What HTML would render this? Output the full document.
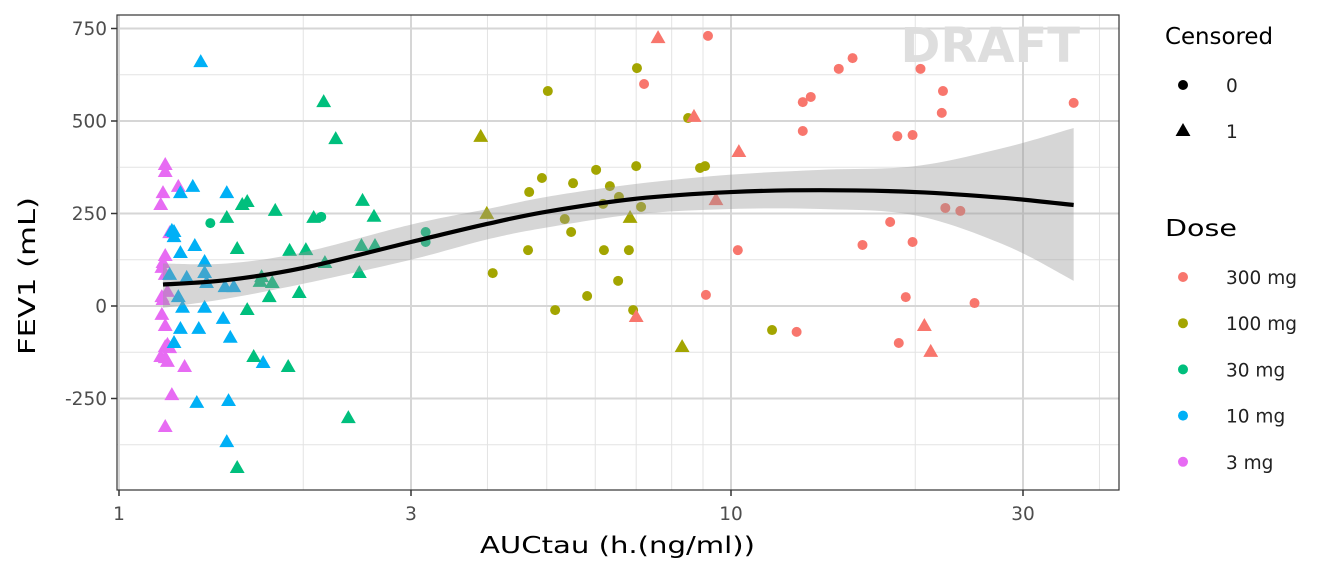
<!DOCTYPE html>
<html><head><meta charset="utf-8"><style>
body{margin:0;background:#fff;}
svg{display:block;font-family:"DejaVu Sans","Liberation Sans",sans-serif;}
</style></head><body>
<svg id="chart" width="1344" height="576" xmlns="http://www.w3.org/2000/svg"></svg>
<script>
// ---- data ----
const xTicks = [1, 3, 10, 30];
const xMinor = [2, 4, 5, 6, 7, 8, 9, 20, 40];
const yTicks = [750, 500, 250, 0, -250];
const yMinor = [625, 375, 125, -125, -375];
const doseLevels = ["300 mg", "100 mg", "30 mg", "10 mg", "3 mg"];
const doseColors = ["#F8766D", "#A3A500", "#00BF7D", "#00B0F6", "#E76BF3"];

const auc3 = [1.19,1.19,1.18,1.17,1.18,1.175,1.25,1.21,1.19,1.19,1.20,1.175,1.18,1.175,1.19,1.20,1.21,1.19,1.19,1.17,1.20,1.28,1.22,1.19];
const fev3 = [381,362,305,273,116,103,322,197,135,84,38,24,16,-24,-54,-105,-114,-111,-141,-138,-151,-165,-241,-327];
const cen3 = [1,1,1,1,1,1,1,1,1,1,1,1,1,1,1,1,1,1,1,1,1,1,1,1];

const auc10 = [1.32,1.26,1.50,1.22,1.23,1.26,1.33,1.38,1.38,1.21,1.29,1.39,1.49,1.54,1.25,1.27,1.38,1.48,1.26,1.35,1.52,1.23,1.72,1.34,1.51,1.50,1.36,1.23];
const fev10 = [322,305,305,203,186,143,162,119,89,84,76,62,51,51,24,-5,-5,-35,-62,-62,-86,-100,-154,-262,-257,-368,659,200];
const cen10 = [1,1,1,1,1,1,1,1,1,1,1,1,1,1,1,1,1,1,1,1,1,1,1,1,1,1,1,1];

const auc30 = [1.41,1.59,1.62,1.80,1.50,2.08,2.14,2.50,2.61,1.56,1.90,2.02,2.49,2.62,2.17,1.71,1.70,1.78,2.47,1.76,1.97,1.62,1.66,1.89,2.37,1.56,2.16,2.26,3.17,3.17];
const fev30 = [224,273,281,257,238,238,241,284,241,154,149,151,162,162,116,78,65,62,89,24,35,-11,-138,-165,-303,-438,551,451,200,173];
const cen30 = [0,1,1,1,1,1,0,1,1,1,1,1,1,1,1,1,1,1,1,1,1,1,1,1,1,1,1,1,0,0];

const auc100 = [3.90,3.99,4.08,5.02,4.91,4.68,5.52,5.35,5.48,4.66,5.16,5.82,6.02,6.34,6.18,6.56,6.20,6.54,6.81,6.92,7.02,7.00,7.13,6.84,8.51,8.90,9.07,8.32,11.67];
const fev100 = [457,249,89,581,346,308,332,235,200,151,-11,27,368,324,276,295,151,68,151,-11,643,378,268,238,508,373,378,-111,-65];
const cen100 = [1,1,0,0,0,0,0,0,0,0,0,0,0,0,0,0,0,0,0,0,0,0,0,1,0,0,0,1,0];

const auc300 = [7.60,9.17,7.21,8.70,10.3,9.45,9.10,7.00,10.26,13.1,13.5,13.1,15.0,15.8,12.8,16.4,18.2,18.7,19.8,20.4,22.1,22.2,19.8,19.3,18.8,20.7,21.2,22.4,23.7,25.0,36.3];
const fev300 = [724,730,600,511,416,286,30,-30,151,551,565,473,641,670,-70,165,227,459,462,641,522,581,173,24,-100,-54,-124,265,257,8,549];
const cen300 = [1,0,0,1,1,1,0,1,0,0,0,0,0,0,0,0,0,0,0,0,0,0,0,0,0,1,1,0,0,0,0];

const smoothX = [1.18,1.5,2,3,4,5,7,10,14,20,28,36.3];
const smoothFit = [58,70,103,173,222,255,290,308,313,308,292,273];
const smoothLo = [-5,20,60,125,180,212,248,262,262,245,165,68];
const smoothHi = [115,115,145,220,262,295,330,355,368,378,428,481];

// ---- scales ----
const PL=117, PR=1119, PT=15, PB=490;
const x = v => 119 + 612*Math.log10(v);
const y = v => 306 - 0.37*v;
const NS="http://www.w3.org/2000/svg";
const svg=document.getElementById('chart');
function mk(tag, attrs, parent){const e=document.createElementNS(NS,tag);for(const k in attrs)e.setAttribute(k,attrs[k]);(parent||svg).appendChild(e);return e;}

const panel=mk('g',{});


mk('rect',{x:PL,y:PT,width:PR-PL,height:PB-PT,fill:'#fff'},panel);
const grid=mk('g',{},panel);


xMinor.forEach(v=>{if(x(v)<PR)mk('line',{x1:x(v),x2:x(v),y1:PT,y2:PB,stroke:'#e3e3e3','stroke-width':1},grid);});
yMinor.forEach(v=>mk('line',{x1:PL,x2:PR,y1:y(v),y2:y(v),stroke:'#e3e3e3','stroke-width':1},grid));
xTicks.forEach(v=>mk('line',{x1:x(v),x2:x(v),y1:PT,y2:PB,stroke:'#d6d6d6','stroke-width':2},grid));
yTicks.forEach(v=>mk('line',{x1:PL,x2:PR,y1:y(v),y2:y(v),stroke:'#d6d6d6','stroke-width':2},grid));

const dt=mk('text',{x:1080,y:62,'text-anchor':'end','font-size':48,'font-weight':'bold',fill:'#dedede'},panel);
dt.textContent='DRAFT';



function drawPoint(g, cx, cy, color, cens){
  let e;
  if(cens){const s=8;e=mk('polygon',{points:`${cx},${cy-s} ${cx-s*0.93},${cy+s*0.62} ${cx+s*0.93},${cy+s*0.62}`,fill:color},g);}
  else e=mk('circle',{cx:cx,cy:cy,r:5,fill:color},g);
  return e;
}
const series=[[auc300,fev300,cen300],[auc100,fev100,cen100],[auc30,fev30,cen30],[auc10,fev10,cen10],[auc3,fev3,cen3]];
for(let s=series.length-1;s>=0;s--){
  const g=mk('g',{},panel);
  
  
  const [a,f,c]=series[s];
  a.forEach((v,i)=>{const p=drawPoint(g,x(v),y(f[i]),doseColors[s],c[i]);
    
    });
}
function curve(pts){let d=`M${pts[0][0]},${pts[0][1]}`;
  for(let i=0;i<pts.length-1;i++){const p0=pts[i-1]||pts[i],p1=pts[i],p2=pts[i+1],p3=pts[i+2]||p2;
    d+=` C${p1[0]+(p2[0]-p0[0])/6},${p1[1]+(p2[1]-p0[1])/6} ${p2[0]-(p3[0]-p1[0])/6},${p2[1]-(p3[1]-p1[1])/6} ${p2[0]},${p2[1]}`;}
  return d;}
const hi=smoothX.map((v,i)=>[x(v),y(smoothHi[i])]);
const lo=smoothX.map((v,i)=>[x(v),y(smoothLo[i])]).reverse();
const band=mk('path',{d:curve(hi)+' L'+curve(lo).slice(1)+' Z',fill:'#999',opacity:0.4},panel);


const line=mk('path',{d:curve(smoothX.map((v,i)=>[x(v),y(smoothFit[i])])),fill:'none',stroke:'#000','stroke-width':4.2},panel);


mk('rect',{x:PL,y:PT,width:PR-PL,height:PB-PT,fill:'none',stroke:'#333','stroke-width':1.2},panel);

// axes
const xa=mk('g',{});


xTicks.forEach(v=>{mk('line',{x1:x(v),x2:x(v),y1:PB,y2:PB+6,stroke:'#333','stroke-width':1.5},xa);
  const t=mk('text',{x:x(v),y:PB+30,'text-anchor':'middle','font-size':18.5,fill:'#4d4d4d'},xa);t.textContent=v;});
const ya=mk('g',{});


yTicks.forEach(v=>{mk('line',{x1:PL-6,x2:PL,y1:y(v),y2:y(v),stroke:'#333','stroke-width':1.5},ya);
  const t=mk('text',{x:PL-10,y:y(v)+6.5,'text-anchor':'end','font-size':18.5,fill:'#4d4d4d'},ya);t.textContent=v;});
const xt=mk('text',{x:480,y:553,'font-size':23.5,fill:'#000',textLength:275,lengthAdjust:'spacingAndGlyphs'});
xt.textContent='AUCtau (h.(ng/ml))';


const yt=mk('text',{x:0,y:0,'font-size':23.5,fill:'#000',textLength:158,lengthAdjust:'spacingAndGlyphs',transform:'translate(35,355) rotate(-90)'});
yt.textContent='FEV1 (mL)';



// legends
const lg=mk('g',{});


let t=mk('text',{x:1165,y:44,'font-size':23.5,textLength:108,lengthAdjust:'spacingAndGlyphs'},lg);t.textContent='Censored';
drawPoint(lg,1183,85,'#000',0);
t=mk('text',{x:1226,y:92,'font-size':18.5,fill:'#222'},lg);t.textContent='0';
drawPoint(lg,1183,131,'#000',1);
t=mk('text',{x:1226,y:138,'font-size':18.5,fill:'#222'},lg);t.textContent='1';
t=mk('text',{x:1165,y:236,'font-size':23.5,textLength:72,lengthAdjust:'spacingAndGlyphs'},lg);t.textContent='Dose';
doseLevels.forEach((d,i)=>{const cy=277+i*46.2;
  const c=drawPoint(lg,1183,cy,doseColors[i],0);
  
  
  const tt=mk('text',{x:1226,y:cy+7,'font-size':18.5,fill:'#222'},lg);tt.textContent=d;});
</script>
</body></html>
